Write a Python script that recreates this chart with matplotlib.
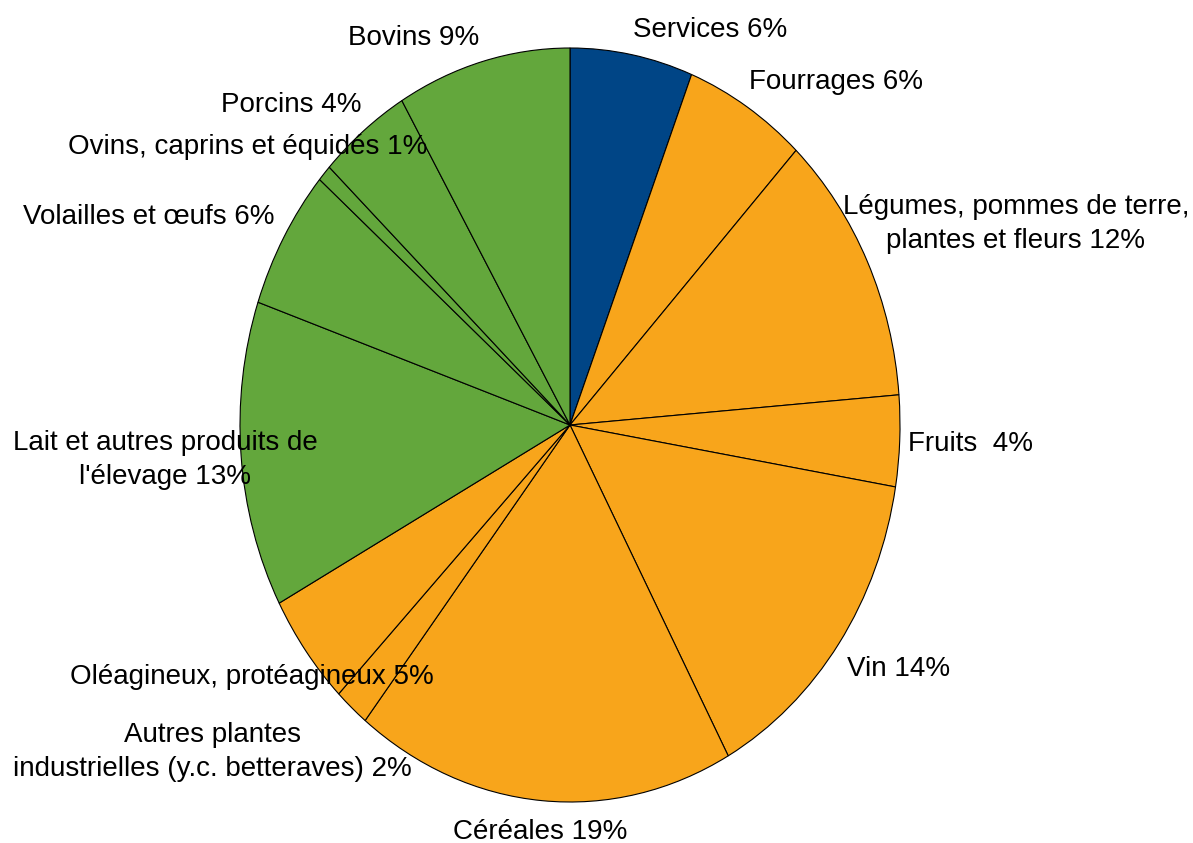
import matplotlib
matplotlib.use("Agg")
import matplotlib.pyplot as plt
from matplotlib import font_manager

categories = [
    "Services", "Fourrages", "Légumes, pommes de terre,\nplantes et fleurs",
    "Fruits ", "Vin", "Céréales",
    "Autres plantes\nindustrielles (y.c. betteraves)",
    "Oléagineux, protéagineux", "Lait et autres produits de\nl'élevage",
    "Volailles et œufs", "Ovins, caprins et équidés", "Porcins", "Bovins",
]
values = [6.0, 6.0, 11.7, 3.9, 14.4, 18.6, 1.7, 4.8, 13.1, 6.0, 0.7, 4.5, 8.5]
shown_pct = [6, 6, 12, 4, 14, 19, 2, 5, 13, 6, 1, 4, 9]
groups = ["services", "crop", "crop", "crop", "crop", "crop", "crop", "crop",
          "animal", "animal", "animal", "animal", "animal"]

group_colors = {"services": "#004586", "crop": "#F8A51B", "animal": "#63A73C"}

names = {f.name for f in font_manager.fontManager.ttflist}
if "Liberation Sans Narrow" in names:
    fam, fs = ["Liberation Sans Narrow", "DejaVu Sans"], 22.5
else:
    fam, fs = ["Liberation Sans", "DejaVu Sans"], 20

W, H = 1193, 843
fig = plt.figure(figsize=(W / 100, H / 100), dpi=100)
cx, cy, rx, ry = 570, 425, 330, 377
ax = fig.add_axes([(cx - rx) / W, (H - cy - ry) / H, 2 * rx / W, 2 * ry / H])
ax.pie(values, colors=[group_colors[g] for g in groups], startangle=90,
       counterclock=False, radius=1,
       wedgeprops=dict(edgecolor="black", linewidth=0.8))
ax.set_aspect("auto")
ax.set_xlim(-1, 1)
ax.set_ylim(-1, 1)
ax.axis("off")

# label centres in pixel coordinates (layout)
label_pos = [
    (710, 30), (836, 82), (1016, 224), (971, 444), (899, 669), (540, 832),
    (212, 752), (252, 677), (165, 460), (149, 217), (248, 147), (291, 105),
    (414, 38),
]
for cat, pct, (px, py) in zip(categories, shown_pct, label_pos):
    fig.text(px / W, 1 - py / H, f"{cat} {pct}%", ha="center", va="center",
             fontsize=fs, family=fam, linespacing=1.38,
             multialignment="center")

fig.savefig("out.png", dpi=100)
